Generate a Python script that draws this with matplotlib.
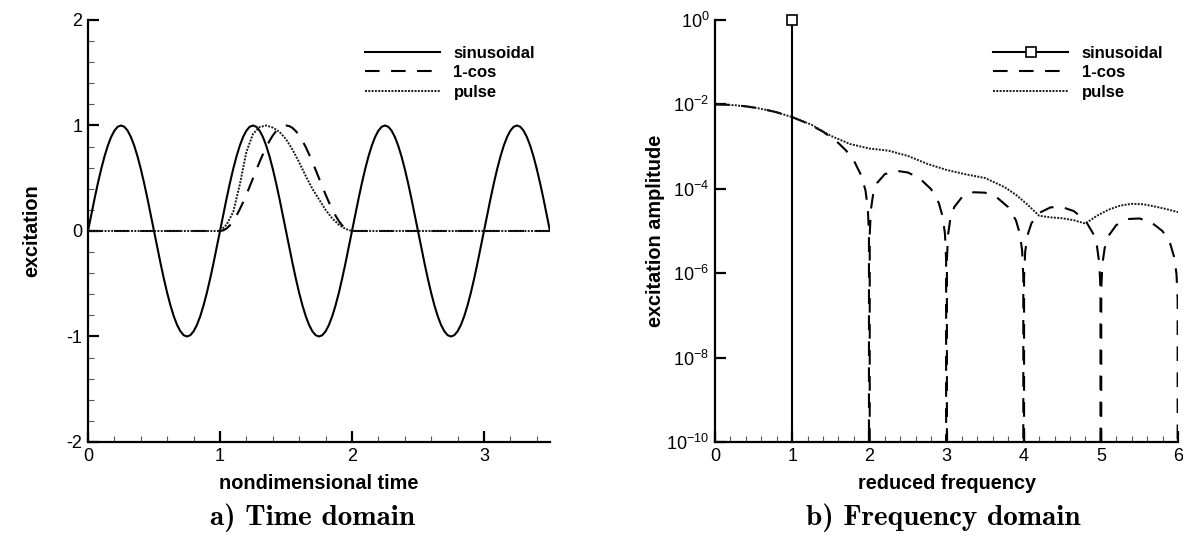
import numpy as np
import matplotlib
matplotlib.use("Agg")
import matplotlib.pyplot as plt
from matplotlib.ticker import MultipleLocator, FixedLocator, FuncFormatter, NullLocator

plt.rcParams['font.family'] = ['Liberation Sans', 'DejaVu Sans']
plt.rcParams['axes.unicode_minus'] = False
plt.rcParams['mathtext.fontset'] = 'custom'
plt.rcParams['mathtext.rm'] = 'Liberation Sans'

# ---- time domain ----
time = np.round(np.arange(0, 3.5001, 0.025), 3)
sinusoidal = [
    0, .156, .309, .454, .588, .707, .809, .891, .951, .988, 1, .988, .951, .891, .809, .707, .588, .454, .309, .156,
    0, -.156, -.309, -.454, -.588, -.707, -.809, -.891, -.951, -.988, -1, -.988, -.951, -.891, -.809, -.707, -.588, -.454, -.309, -.156,
    0, .156, .309, .454, .588, .707, .809, .891, .951, .988, 1, .988, .951, .891, .809, .707, .588, .454, .309, .156,
    0, -.156, -.309, -.454, -.588, -.707, -.809, -.891, -.951, -.988, -1, -.988, -.951, -.891, -.809, -.707, -.588, -.454, -.309, -.156,
    0, .156, .309, .454, .588, .707, .809, .891, .951, .988, 1, .988, .951, .891, .809, .707, .588, .454, .309, .156,
    0, -.156, -.309, -.454, -.588, -.707, -.809, -.891, -.951, -.988, -1, -.988, -.951, -.891, -.809, -.707, -.588, -.454, -.309, -.156,
    0, .156, .309, .454, .588, .707, .809, .891, .951, .988, 1, .988, .951, .891, .809, .707, .588, .454, .309, .156,
    0]

t_cos = np.concatenate(([0], np.round(np.arange(1, 2.0001, 0.025), 3), [3.5]))
one_cos = [0,
           0, .006, .024, .054, .095, .146, .206, .273, .345, .422, .5, .578, .655, .727, .794, .854, .905, .946, .976, .994,
           1, .994, .976, .946, .905, .854, .794, .727, .655, .578, .5, .422, .345, .273, .206, .146, .095, .054, .024, .006,
           0, 0]

t_pulse = [0, 1.0, 1.05, 1.1, 1.15, 1.2, 1.25, 1.3, 1.35, 1.4, 1.45, 1.5,
           1.55, 1.6, 1.65, 1.7, 1.75, 1.8, 1.85, 1.9, 1.95, 2.0, 3.5]
pulse = [0, 0, .06, .18, .44, .75, .92, .985, 1.0, .98, .94, .87,
         .77, .65, .52, .40, .30, .20, .12, .06, .02, 0, 0]

# ---- frequency domain ----
f_sin = [1, 1]
a_sin = [1e-10, 1]

f_cos = [0, .2, .4, .6, .8, 1.0, 1.2, 1.4, 1.6, 1.7, 1.8, 1.9, 1.95, 1.98, 1.995, 2.0,
         2.005, 2.02, 2.05, 2.1, 2.2, 2.35, 2.5, 2.65, 2.8, 2.9, 2.95, 2.98, 2.995, 3.0,
         3.005, 3.02, 3.05, 3.1, 3.2, 3.35, 3.5, 3.65, 3.8, 3.9, 3.95, 3.98, 3.995, 4.0,
         4.005, 4.02, 4.05, 4.1, 4.2, 4.35, 4.5, 4.65, 4.8, 4.9, 4.95, 4.98, 4.995, 5.0,
         5.005, 5.02, 5.05, 5.1, 5.2, 5.35, 5.5, 5.65, 5.8, 5.9, 5.95, 5.98, 5.995, 6.0]
a_cos = [1e-2, 9.75e-3, 9.01e-3, 7.88e-3, 6.5e-3, 5.0e-3, 3.54e-3, 2.25e-3, 1.21e-3, 8.0e-4,
         4.64e-4, 1.98e-4, 9.1e-5, 3.46e-5, 8.4e-6, 0,
         8.3e-6, 3.21e-5, 7.58e-5, 1.37e-4, 2.22e-4, 2.67e-4, 2.43e-4, 1.78e-4, 9.8e-5, 4.6e-5,
         2.19e-5, 8.5e-6, 2.1e-6, 0,
         2.07e-6, 8.15e-6, 1.97e-5, 3.69e-5, 6.33e-5, 8.28e-5, 8.08e-5, 6.31e-5, 3.66e-5, 1.78e-5,
         8.6e-6, 3.4e-6, 8.4e-7, 0,
         8.3e-7, 3.28e-6, 7.98e-6, 1.52e-5, 2.68e-5, 3.64e-5, 3.67e-5, 2.96e-5, 1.77e-5, 8.7e-6,
         4.3e-6, 1.69e-6, 4.2e-7, 0,
         4.15e-7, 1.65e-6, 4.0e-6, 7.7e-6, 1.38e-5, 1.92e-5, 1.98e-5, 1.62e-5, 9.9e-6, 4.9e-6,
         2.4e-6, 9.6e-7, 2.4e-7, 0]

f_pulse = [0, .25, .5, .75, 1.0, 1.25, 1.5, 1.75, 2.0, 2.25, 2.5, 2.75, 3.0, 3.25, 3.5,
           3.75, 3.9, 4.05, 4.2, 4.35, 4.5, 4.65, 4.8, 4.95, 5.1, 5.25, 5.4, 5.55, 5.7, 5.85, 6.0]
a_pulse = [1e-2, 9.6e-3, 8.5e-3, 6.9e-3, 5.0e-3, 3.3e-3, 1.8e-3, 1.15e-3, 9.0e-4, 8.0e-4,
           6.0e-4, 3.9e-4, 2.8e-4, 2.2e-4, 1.8e-4, 1.1e-4, 7.2e-5, 4.2e-5, 2.3e-5, 2.1e-5,
           2.0e-5, 1.8e-5, 1.5e-5, 2.3e-5, 3.2e-5, 4.0e-5, 4.4e-5, 4.3e-5, 3.8e-5, 3.3e-5, 2.8e-5]

LW = 1.5
DASH = (7, 5.5)
DOT = (1, 0.7)
PULSE_C = '0.1'
PULSE_LW = 1.4

fig = plt.figure(figsize=(11.83, 5.46), dpi=100)
ax1 = fig.add_axes([0.0744, 0.1905, 0.3905, 0.7729])
ax2 = fig.add_axes([0.6044, 0.1905, 0.3914, 0.7729])

# left: time domain
ax1.plot(time, sinusoidal, color='black', lw=LW, label='sinusoidal')
ax1.plot(t_cos, one_cos, color='black', lw=LW, dashes=DASH, label='1-cos')
ax1.plot(t_pulse, pulse, color=PULSE_C, lw=PULSE_LW, dashes=DOT, label='pulse')
ax1.set_xlim(0, 3.5)
ax1.set_ylim(-2, 2)
ax1.xaxis.set_major_locator(MultipleLocator(1))
ax1.xaxis.set_minor_locator(MultipleLocator(0.2))
ax1.yaxis.set_major_locator(MultipleLocator(1))
ax1.yaxis.set_minor_locator(MultipleLocator(0.2))
ax1.set_xlabel('nondimensional time', fontsize=14.3, fontweight='bold', labelpad=7)
ax1.set_ylabel('excitation', fontsize=14.3, fontweight='bold', labelpad=18)

# right: frequency domain
ax2.plot(f_sin, a_sin, color='black', lw=LW, marker='s', markersize=7,
         markerfacecolor='white', markeredgewidth=1.2, markevery=[1],
         clip_on=False, label='sinusoidal')
ax2.plot(f_cos, a_cos, color='black', lw=LW, dashes=DASH, label='1-cos')
ax2.plot(f_pulse, a_pulse, color=PULSE_C, lw=PULSE_LW, dashes=DOT, label='pulse')
ax2.set_yscale('log')
ax2.set_xlim(0, 6)
ax2.set_ylim(1e-10, 1)
ax2.xaxis.set_major_locator(MultipleLocator(1))
ax2.xaxis.set_minor_locator(MultipleLocator(0.2))
ax2.yaxis.set_major_locator(FixedLocator([1e-10, 1e-8, 1e-6, 1e-4, 1e-2, 1]))
ax2.yaxis.set_minor_locator(NullLocator())
ax2.yaxis.set_major_formatter(FuncFormatter(
    lambda v, p: r'$\mathregular{10^{%d}}$' % round(np.log10(v))))
ax2.set_xlabel('reduced frequency', fontsize=14.3, fontweight='bold', labelpad=7)
ax2.set_ylabel('excitation amplitude', fontsize=14.3, fontweight='bold', labelpad=1)

for ax in (ax1, ax2):
    for s in ('top', 'right'):
        ax.spines[s].set_visible(False)
    for s in ('left', 'bottom'):
        ax.spines[s].set_linewidth(1.6)
    ax.tick_params(which='major', direction='in', length=8, width=1.6, labelsize=13, pad=4)
    ax.tick_params(which='minor', direction='in', length=4, width=0.8, color='0.35')
    leg = ax.legend(loc='upper right', bbox_to_anchor=(1.0, 0.975), frameon=False,
                    fontsize=12, handlelength=4.5, handletextpad=0.8,
                    labelspacing=0.27, numpoints=1)
    for txt in leg.get_texts():
        txt.set_fontweight('bold')

fig.text(0.264, 0.051, 'a) Time domain', family='cmb10', fontsize=21,
         ha='center', va='center')
fig.text(0.797, 0.051, 'b) Frequency domain', family='cmb10', fontsize=21,
         ha='center', va='center')

fig.savefig('out.png', dpi=100)
